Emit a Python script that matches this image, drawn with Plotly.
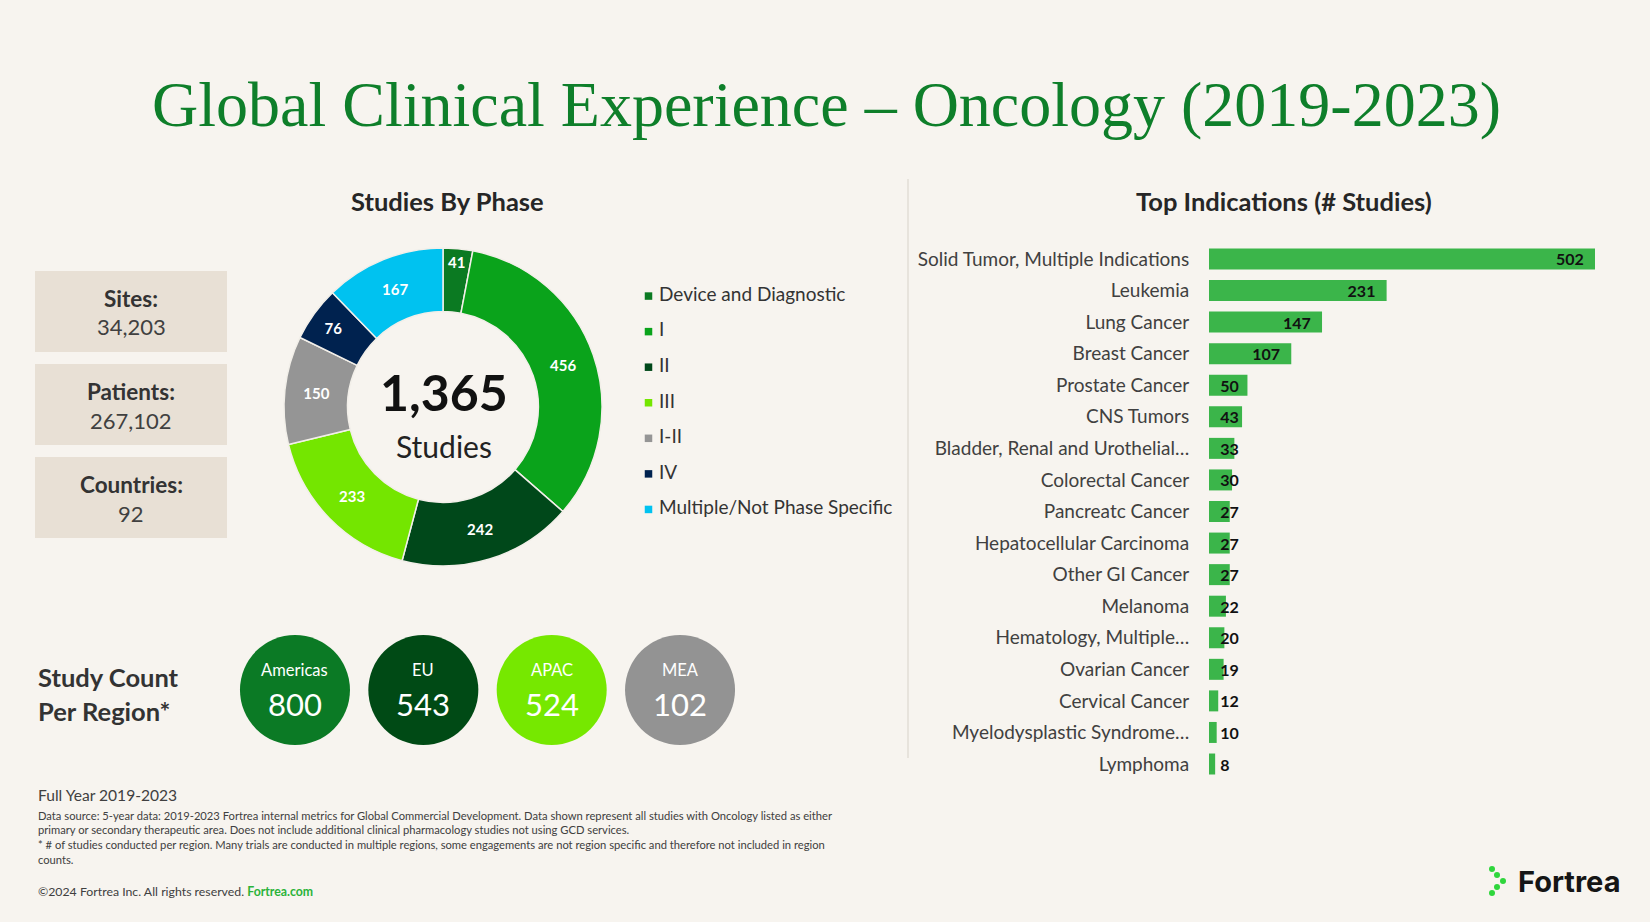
import plotly.graph_objects as go

W, H = 1650, 922
FONT = "Lato"

title_text = "Global Clinical Experience – Oncology (2019-2023)"

# Studies by phase (donut)
phases = ["Device and Diagnostic", "I", "II", "III", "I-II", "IV", "Multiple/Not Phase Specific"]
phase_counts = [41, 456, 242, 233, 150, 76, 167]
phase_colors = ["#0b7a22", "#0aa31b", "#00481a", "#74e600", "#959595", "#00224f", "#00c2f0"]
total_studies = "1,365"

# Summary boxes
stat_labels = ["Sites:", "Patients:", "Countries:"]
stat_values = ["34,203", "267,102", "92"]

# Study count per region
regions = ["Americas", "EU", "APAC", "MEA"]
region_counts = [800, 543, 524, 102]
region_colors = ["#0b7a25", "#004a15", "#76e800", "#939393"]

# Top indications
indications = [
    "Solid Tumor, Multiple Indications", "Leukemia", "Lung Cancer", "Breast Cancer",
    "Prostate Cancer", "CNS Tumors", "Bladder, Renal and Urothelial…", "Colorectal Cancer",
    "Pancreatc Cancer", "Hepatocellular Carcinoma", "Other GI Cancer", "Melanoma",
    "Hematology, Multiple…", "Ovarian Cancer", "Cervical Cancer", "Myelodysplastic Syndrome…",
    "Lymphoma",
]
indication_counts = [502, 231, 147, 107, 50, 43, 33, 30, 27, 27, 27, 22, 20, 19, 12, 10, 8]

footnote_lines = [
    "Data source: 5-year data: 2019-2023 Fortrea internal metrics for Global Commercial Development. Data shown represent all studies with Oncology listed as either",
    "primary or secondary therapeutic area. Does not include additional clinical pharmacology studies not using GCD services.",
    "* # of studies conducted per region. Many trials are conducted in multiple regions, some engagements are not region specific and therefore not included in region",
    "counts.",
]

BG = "#f7f4ef"
BOX = "#e8e0d5"
GREEN_TITLE = "#0e7f2a"
BAR_GREEN = "#3bb54a"
NB = "\u00a0"


def px(x):
    return x / W


def py(y):
    return 1 - y / H


fig = go.Figure()

# Donut
fig.add_trace(go.Pie(
    labels=phases, values=phase_counts, sort=False, direction="clockwise", rotation=0,
    hole=0.6, marker=dict(colors=phase_colors, line=dict(color="#f2efe9", width=1.5)),
    textinfo="value", texttemplate="<b>%{value}</b>", textposition="inside",
    insidetextorientation="horizontal",
    textfont=dict(family=FONT, size=15, color="white"),
    domain=dict(x=[px(284), px(602)], y=[py(566), py(248)]),
    showlegend=False, hoverinfo="label+value",
))

# Manual legend for donut (square markers + labels)
fig.add_trace(go.Scatter(
    x=[0] * len(phases), y=phases, mode="markers+text",
    marker=dict(symbol="square", size=7.5, color=phase_colors),
    text=[NB + p for p in phases], textposition="middle right",
    textfont=dict(family=FONT, size=19, color="#333333"),
    xaxis="x3", yaxis="y3", cliponaxis=False, showlegend=False, hoverinfo="skip",
))

# Region circles
fig.add_trace(go.Scatter(
    x=regions, y=[0] * len(regions), mode="markers",
    marker=dict(size=110, color=region_colors, line=dict(width=0)),
    xaxis="x2", yaxis="y2", cliponaxis=False, showlegend=False,
    customdata=region_counts, hovertemplate="%{x}: %{customdata}<extra></extra>",
))

# Bars (labels at inside end for long bars)
BIG = 100
fig.add_trace(go.Bar(
    x=indication_counts, y=indications, orientation="h",
    marker=dict(color=BAR_GREEN, line=dict(width=0)),
    texttemplate="<b>%{x}</b>" + NB + NB,
    textposition=["inside" if v >= BIG else "none" for v in indication_counts],
    insidetextanchor="end", constraintext="none", textangle=0,
    textfont=dict(family=FONT, size=16, color="#111111"),
    cliponaxis=False, showlegend=False, xaxis="x", yaxis="y",
))
# Labels for short bars, anchored near bar start (overlapping the bar end)
fig.add_trace(go.Bar(
    x=indication_counts, y=indications, orientation="h",
    marker=dict(color="rgba(0,0,0,0)", line=dict(width=0)),
    texttemplate=NB + NB + "<b>%{x}</b>",
    textposition=["none" if v >= BIG else "inside" for v in indication_counts],
    insidetextanchor="start", constraintext="none", textangle=0,
    textfont=dict(family=FONT, size=16, color="#111111"),
    cliponaxis=False, showlegend=False, hoverinfo="skip", xaxis="x", yaxis="y",
))

annotations = []
shapes = []

# Title
annotations.append(dict(
    text=title_text, x=px(826), y=py(104), xref="paper", yref="paper",
    xanchor="center", yanchor="middle", showarrow=False,
    font=dict(family="Liberation Serif", size=64, color=GREEN_TITLE),
))

# Section headings
annotations.append(dict(
    text="<b>Studies By Phase</b>", x=px(447), y=py(201), xref="paper", yref="paper",
    xanchor="center", yanchor="middle", showarrow=False,
    font=dict(family=FONT, size=25.5, color="#262626"),
))
annotations.append(dict(
    text="<b>Top Indications (# Studies)</b>", x=px(1284), y=py(201), xref="paper", yref="paper",
    xanchor="center", yanchor="middle", showarrow=False,
    font=dict(family=FONT, size=25.5, color="#262626"),
))

# Donut center text
annotations.append(dict(
    text="<b>" + total_studies + "</b>", x=px(444), y=py(392), xref="paper", yref="paper",
    xanchor="center", yanchor="middle", showarrow=False,
    font=dict(family=FONT, size=50, color="#111111"),
))
annotations.append(dict(
    text="Studies", x=px(444), y=py(446), xref="paper", yref="paper",
    xanchor="center", yanchor="middle", showarrow=False,
    font=dict(family=FONT, size=30, color="#222222"),
))

# Summary boxes
box_tops = [271, 364, 457]
box_h = 81
for lab, val, top in zip(stat_labels, stat_values, box_tops):
    shapes.append(dict(type="rect", xref="paper", yref="paper",
                       x0=px(35), x1=px(227), y0=py(top + box_h), y1=py(top),
                       fillcolor=BOX, line=dict(width=0), layer="below"))
    annotations.append(dict(
        text="<b>" + lab + "</b>", x=px(131), y=py(top + 27), xref="paper", yref="paper",
        xanchor="center", yanchor="middle", showarrow=False,
        font=dict(family=FONT, size=22.5, color="#333333"),
    ))
    annotations.append(dict(
        text=val, x=px(131), y=py(top + 56), xref="paper", yref="paper",
        xanchor="center", yanchor="middle", showarrow=False,
        font=dict(family=FONT, size=22, color="#404040"),
    ))

# Region label
annotations.append(dict(
    text="<b>Study Count</b>", x=px(36), y=py(677), xref="paper", yref="paper",
    xanchor="left", yanchor="middle", align="left", showarrow=False,
    font=dict(family=FONT, size=25.5, color="#333333"),
))
annotations.append(dict(
    text="<b>Per Region*</b>", x=px(36), y=py(711), xref="paper", yref="paper",
    xanchor="left", yanchor="middle", align="left", showarrow=False,
    font=dict(family=FONT, size=25.5, color="#333333"),
))
for r, c in zip(regions, region_counts):
    annotations.append(dict(
        text=r, x=r, y=0, xref="x2", yref="y2", yshift=20,
        xanchor="center", yanchor="middle", showarrow=False,
        font=dict(family=FONT, size=16.5, color="white"),
    ))
    annotations.append(dict(
        text=str(c), x=r, y=0, xref="x2", yref="y2", yshift=-14,
        xanchor="center", yanchor="middle", showarrow=False,
        font=dict(family=FONT, size=31, color="white"),
    ))

# Separator line
shapes.append(dict(type="line", xref="paper", yref="paper",
                   x0=px(908), x1=px(908), y0=py(758), y1=py(179),
                   line=dict(color="#e2ded6", width=1.5)))

# Footnotes
annotations.append(dict(
    text="Full Year 2019-2023", x=px(36), y=py(795), xref="paper", yref="paper",
    xanchor="left", yanchor="middle", showarrow=False,
    font=dict(family=FONT, size=15.6, color="#404040"),
))
for i, line in enumerate(footnote_lines):
    annotations.append(dict(
        text=line, x=px(36), y=py(815 + i * 14.8), xref="paper", yref="paper",
        xanchor="left", yanchor="middle", showarrow=False,
        font=dict(family=FONT, size=11.2, color="#404040"),
    ))
annotations.append(dict(
    text="©2024 Fortrea Inc. All rights reserved. <span style='color:#2bb33a'><b>Fortrea.com</b></span>",
    x=px(36), y=py(891), xref="paper", yref="paper",
    xanchor="left", yanchor="middle", showarrow=False,
    font=dict(family=FONT, size=12.3, color="#404040"),
))

# Logo
annotations.append(dict(
    text="<b>Fortrea</b>", x=px(1516), y=py(881), xref="paper", yref="paper",
    xanchor="left", yanchor="middle", showarrow=False,
    font=dict(family="Inter", size=29, color="#151515"),
))
for (cx, cy) in [(1492, 869), (1497, 875), (1503, 881), (1497, 887), (1492, 893)]:
    shapes.append(dict(type="circle", xref="paper", yref="paper",
                       x0=px(cx - 3), x1=px(cx + 3), y0=py(cy + 3), y1=py(cy - 3),
                       fillcolor="#2fd63c", line=dict(width=0)))

row_top, row_bot = 243.2, 779.8
fig.update_layout(
    width=W, height=H, autosize=False,
    margin=dict(l=0, r=0, t=0, b=0, pad=0),
    paper_bgcolor=BG, plot_bgcolor=BG,
    font=dict(family=FONT, color="#333333"),
    barmode="overlay", bargap=0.335,
    annotations=annotations, shapes=shapes,
    xaxis=dict(domain=[px(1209), px(1595)], range=[0, 502], visible=False, fixedrange=True),
    yaxis=dict(domain=[py(row_bot), py(row_top)], type="category", autorange="reversed",
               anchor="x", showgrid=False, zeroline=False, showline=False,
               ticks="outside", ticklen=15, tickcolor="rgba(0,0,0,0)",
               tickfont=dict(family=FONT, size=19, color="#404040"), fixedrange=True),
    xaxis2=dict(domain=[px(230.8), px(744.2)], range=[-0.5, 3.5], type="category",
                anchor="y2", visible=False, fixedrange=True),
    yaxis2=dict(domain=[py(745), py(635)], range=[-1, 1], anchor="x2",
                visible=False, fixedrange=True),
    xaxis3=dict(domain=[px(628.5), px(668.5)], range=[-1, 1], anchor="y3",
                visible=False, fixedrange=True),
    yaxis3=dict(domain=[py(526.5), py(279)], type="category", autorange="reversed",
                anchor="x3", visible=False, fixedrange=True),
)

fig.write_html("out.html", config={"displayModeBar": False},
               post_script="document.body.style.margin='0';")
